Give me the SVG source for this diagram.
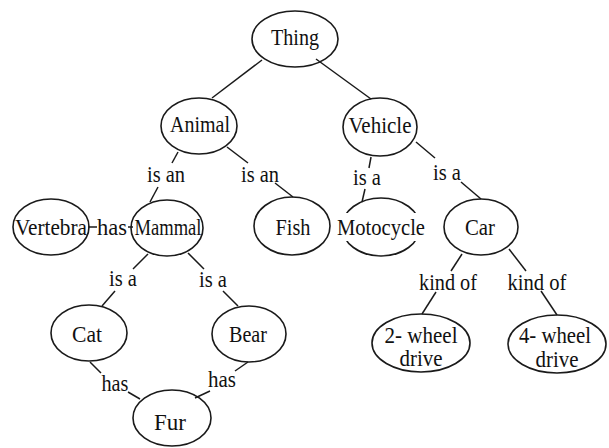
<svg xmlns="http://www.w3.org/2000/svg" width="609" height="448" viewBox="0 0 609 448" font-family="Liberation Serif, Times New Roman, serif">
<style>
.n{fill:none;stroke:#1a1a1a;stroke-width:1.6}
text{font-size:23px;fill:#111;text-anchor:middle}
.c line{stroke:#1a1a1a;stroke-width:1.5}
</style>
<rect width="609" height="448" fill="#fff"/>
<g class="c" id="connectors">
<line x1="262" y1="60" x2="212" y2="98"/>
<line x1="316" y1="59" x2="371" y2="99"/>
<line x1="178" y1="152" x2="172" y2="163"/>
<line x1="158" y1="187" x2="150" y2="202"/>
<text x="166" y="182" textLength="38" lengthAdjust="spacingAndGlyphs">is an</text>
<line x1="227" y1="147" x2="248" y2="163"/>
<line x1="275" y1="183" x2="293" y2="197"/>
<text x="260" y="182" textLength="38" lengthAdjust="spacingAndGlyphs">is an</text>
<line x1="371" y1="157" x2="369" y2="168"/>
<line x1="365" y1="189" x2="362" y2="202"/>
<text x="367" y="185" textLength="28" lengthAdjust="spacingAndGlyphs">is a</text>
<line x1="416" y1="142" x2="435" y2="158"/>
<line x1="461" y1="182" x2="481" y2="199"/>
<text x="447" y="180" textLength="28" lengthAdjust="spacingAndGlyphs">is a</text>
<line x1="88" y1="227" x2="97" y2="227"/>
<line x1="128" y1="227" x2="133" y2="227"/>
<text x="112" y="235" textLength="30" lengthAdjust="spacingAndGlyphs">has</text>
<line x1="148" y1="254" x2="133" y2="269"/>
<line x1="115" y1="291" x2="102" y2="306"/>
<text x="123" y="286" textLength="28" lengthAdjust="spacingAndGlyphs">is a</text>
<line x1="188" y1="253" x2="204" y2="269"/>
<line x1="223" y1="291" x2="238" y2="306"/>
<text x="213" y="287" textLength="28" lengthAdjust="spacingAndGlyphs">is a</text>
<line x1="90" y1="362" x2="101" y2="373"/>
<line x1="128" y1="392" x2="140" y2="399"/>
<text x="115" y="391" textLength="27" lengthAdjust="spacingAndGlyphs">has</text>
<line x1="248" y1="362" x2="235" y2="371"/>
<line x1="210" y1="391" x2="195" y2="398"/>
<text x="222" y="387" textLength="28" lengthAdjust="spacingAndGlyphs">has</text>
<line x1="462" y1="254" x2="451" y2="271"/>
<line x1="436" y1="292" x2="422" y2="314"/>
<text x="448" y="290" textLength="58" lengthAdjust="spacingAndGlyphs">kind of</text>
<line x1="509" y1="249" x2="526" y2="271"/>
<line x1="541" y1="291" x2="557" y2="315"/>
<text x="537" y="290" textLength="59" lengthAdjust="spacingAndGlyphs">kind of</text>
</g>
<g id="thing"><ellipse class="n" cx="295" cy="39" rx="43" ry="28"/><text x="295" y="45" textLength="48" lengthAdjust="spacingAndGlyphs">Thing</text></g>
<g id="animal"><ellipse class="n" cx="199" cy="126" rx="38" ry="28"/><text x="200" y="132" textLength="60" lengthAdjust="spacingAndGlyphs">Animal</text></g>
<g id="vehicle"><ellipse class="n" cx="380" cy="127" rx="37" ry="29"/><text x="380" y="133" textLength="63" lengthAdjust="spacingAndGlyphs">Vehicle</text></g>
<g id="vertebra"><ellipse class="n" cx="51" cy="227" rx="38" ry="28"/><text x="51" y="235" textLength="72" lengthAdjust="spacingAndGlyphs">Vertebra</text></g>
<g id="mammal"><ellipse class="n" cx="167" cy="228" rx="36" ry="28"/><text x="168" y="235" textLength="67" lengthAdjust="spacingAndGlyphs">Mammal</text></g>
<g id="fish"><ellipse class="n" cx="292" cy="226" rx="38" ry="29"/><text x="293" y="235" textLength="35" lengthAdjust="spacingAndGlyphs">Fish</text></g>
<g id="motocycle"><ellipse class="n" cx="381" cy="227" rx="39" ry="29"/><rect x="336" y="213" width="90" height="28" fill="#fff"/><text x="381" y="235" textLength="88" lengthAdjust="spacingAndGlyphs">Motocycle</text></g>
<g id="car"><ellipse class="n" cx="481" cy="227" rx="37" ry="28"/><text x="480" y="235" textLength="30" lengthAdjust="spacingAndGlyphs">Car</text></g>
<g id="cat"><ellipse class="n" cx="89" cy="333" rx="38" ry="28"/><text x="87" y="342" textLength="30" lengthAdjust="spacingAndGlyphs">Cat</text></g>
<g id="bear"><ellipse class="n" cx="249" cy="334" rx="37" ry="28"/><text x="248" y="342" textLength="38" lengthAdjust="spacingAndGlyphs">Bear</text></g>
<g id="two-wheel"><ellipse class="n" cx="421" cy="343" rx="49" ry="29"/><text x="421" y="343" textLength="73" lengthAdjust="spacingAndGlyphs">2- wheel</text><text x="421" y="366" textLength="43" lengthAdjust="spacingAndGlyphs">drive</text></g>
<g id="four-wheel"><ellipse class="n" cx="557" cy="344" rx="49" ry="29"/><text x="555" y="343" textLength="72" lengthAdjust="spacingAndGlyphs">4- wheel</text><text x="557" y="367" textLength="43" lengthAdjust="spacingAndGlyphs">drive</text></g>
<g id="fur"><ellipse class="n" cx="172" cy="418" rx="39" ry="28"/><text x="170" y="430" textLength="32" lengthAdjust="spacingAndGlyphs">Fur</text></g>
</svg>
